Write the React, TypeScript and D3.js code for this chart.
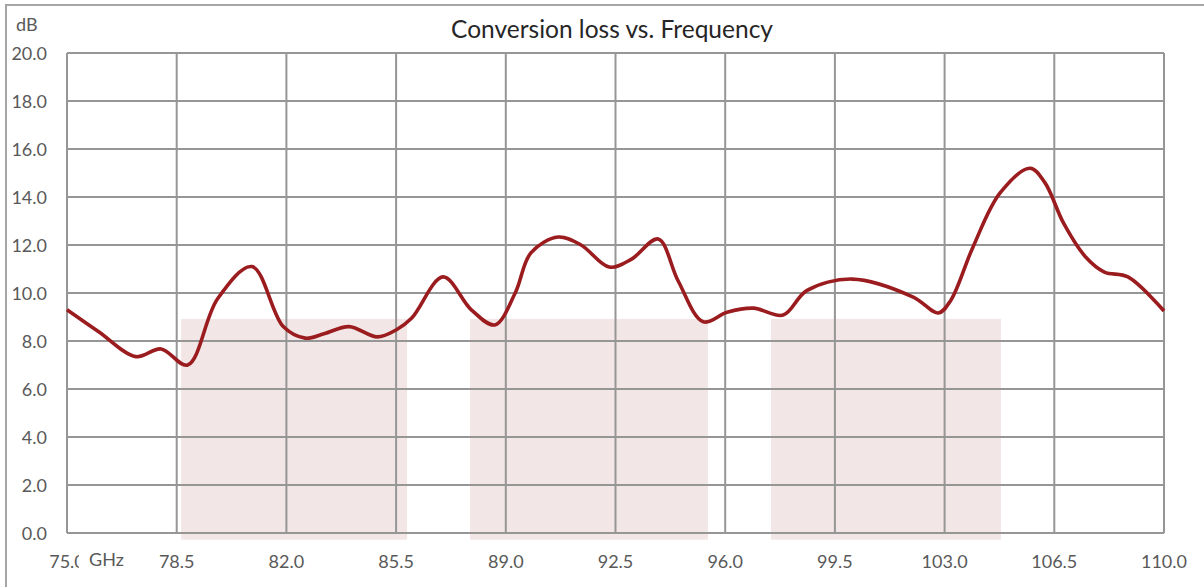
import { useEffect, useRef } from 'react';
import * as d3 from 'd3';

const W = 1204;
const H = 587;

// frequency (GHz) and conversion loss (dB)
const freqs = [75.0, 76.0, 77.2, 78.0, 78.85, 79.8, 80.9, 81.9, 82.6, 83.2, 84.0, 84.9, 85.5, 86.0, 87.0,
  87.9, 88.65, 89.3, 89.8, 90.67, 91.4, 92.3, 93.0, 93.86, 94.5, 95.3, 96.06, 96.9, 97.85, 98.6,
  100.05, 102.0, 102.8, 103.2, 103.9, 104.77, 105.73, 106.2, 106.8, 107.5, 108.1, 108.85, 110.0];
const loss = [9.3, 8.4, 7.35, 7.67, 7.0, 9.75, 11.1, 8.6, 8.12, 8.3, 8.6, 8.17, 8.46, 8.96, 10.67,
  9.3, 8.67, 10.0, 11.67, 12.33, 12.0, 11.08, 11.4, 12.25, 10.5, 8.8, 9.2, 9.37, 9.08, 10.1,
  10.58, 9.83, 9.17, 9.7, 11.9, 14.17, 15.2, 14.6, 12.9, 11.5, 10.87, 10.67, 9.25];

// shaded bands (GHz start/end, dB top)
const bandStart = [78.64, 87.86, 97.46];
const bandEnd = [85.85, 95.45, 104.8];
const bandTop = 8.92;
const bandBottom = -0.28;

const xTicks = [75.0, 78.5, 82.0, 85.5, 89.0, 92.5, 96.0, 99.5, 103.0, 106.5, 110.0];
const yTicks = [0, 2, 4, 6, 8, 10, 12, 14, 16, 18, 20];

const title = 'Conversion loss vs. Frequency';
const xUnit = 'GHz';
const yUnit = 'dB';

const FONT = 'Lato, "Noto Sans", sans-serif';

export default function App() {
  const svgRef = useRef<SVGSVGElement>(null);

  useEffect(() => {
    if (!svgRef.current) return;
    const svg = d3.select(svgRef.current);
    svg.selectAll('*').remove();

    const left = 67, right = 1164, top = 53, bottom = 533;
    const x = d3.scaleLinear().domain([75, 110]).range([left, right]);
    const y = d3.scaleLinear().domain([0, 20]).range([bottom, top]);

    // outer chart frame
    svg.append('rect')
      .attr('x', 6).attr('y', 5).attr('width', W + 20).attr('height', H + 20)
      .attr('fill', 'white').attr('stroke', '#a6a6a6').attr('stroke-width', 2);

    // bands
    svg.append('g').selectAll('rect')
      .data(bandStart)
      .join('rect')
      .attr('x', (d) => x(d))
      .attr('width', (d, i) => x(bandEnd[i]) - x(d))
      .attr('y', y(bandTop))
      .attr('height', y(bandBottom) - y(bandTop))
      .attr('fill', '#f3e6e6');

    // grid
    const grid = svg.append('g').attr('stroke', '#969696').attr('stroke-width', 2);
    grid.selectAll('line.h').data(yTicks).join('line')
      .attr('x1', left).attr('x2', right)
      .attr('y1', (d) => y(d)).attr('y2', (d) => y(d));
    grid.selectAll('line.v').data(xTicks).join('line')
      .attr('y1', top).attr('y2', bottom)
      .attr('x1', (d) => x(d)).attr('x2', (d) => x(d));

    // curve
    const pts: [number, number][] = freqs.map((f, i) => [f, loss[i]]);
    const line = d3.line<[number, number]>()
      .x((d) => x(d[0]))
      .y((d) => y(d[1]))
      .curve(d3.curveCatmullRom.alpha(0.5));
    svg.append('path')
      .datum(pts)
      .attr('fill', 'none')
      .attr('stroke', '#9b1c1f')
      .attr('stroke-width', 3.6)
      .attr('stroke-linejoin', 'round')
      .attr('d', line);

    // y labels
    svg.append('g').selectAll('text').data(yTicks).join('text')
      .attr('x', 47).attr('y', (d) => y(d) + 6.5)
      .attr('text-anchor', 'end')
      .attr('font-family', FONT).attr('font-size', 18).attr('fill', '#595959')
      .text((d) => d3.format('.1f')(d));

    // x labels
    svg.append('g').selectAll('text').data(xTicks).join('text')
      .attr('x', (d) => x(d)).attr('y', 568)
      .attr('text-anchor', 'middle')
      .attr('font-family', FONT).attr('font-size', 18).attr('fill', '#595959')
      .text((d) => d3.format('.1f')(d));

    // unit labels (GHz box covers the tail of the first tick label)
    svg.append('rect').attr('x', 79).attr('y', 548).attr('width', 48).attr('height', 24).attr('fill', 'white');
    svg.append('text').attr('x', 89).attr('y', 566)
      .attr('font-family', FONT).attr('font-size', 18).attr('fill', '#595959').text(xUnit);
    svg.append('text').attr('x', 16).attr('y', 31)
      .attr('font-family', FONT).attr('font-size', 18).attr('fill', '#595959').text(yUnit);

    // title
    svg.append('text').attr('x', 612).attr('y', 38)
      .attr('text-anchor', 'middle')
      .attr('font-family', FONT).attr('font-size', 24.5).attr('fill', '#262626').text(title);
  }, []);

  return (
    <svg ref={svgRef} width={W} height={H}
      style={{ position: 'absolute', left: 0, top: 0, background: 'white' }} />
  );
}
